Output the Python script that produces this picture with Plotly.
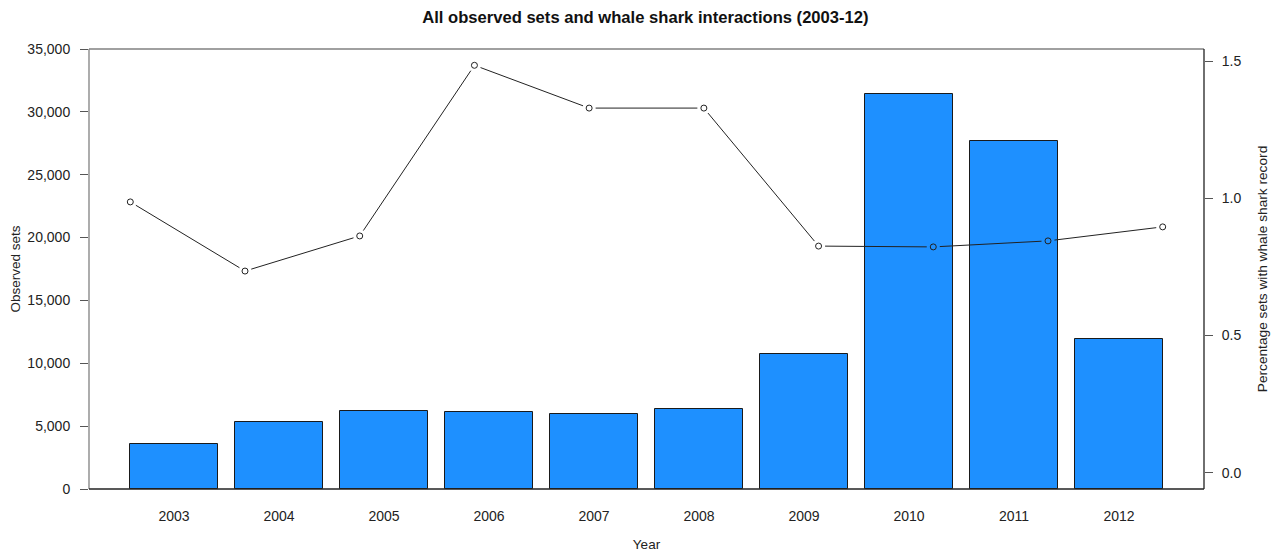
import math
import plotly.graph_objects as go

years = [2003, 2004, 2005, 2006, 2007, 2008, 2009, 2010, 2011, 2012]
observed_sets = [3600, 5330, 6220, 6150, 5990, 6330, 10760, 31400, 27710, 11970]
pct_whale_shark = [0.987, 0.735, 0.863, 1.485, 1.329, 1.329, 0.826, 0.823, 0.845, 0.896]
left_ticks = [0, 5000, 10000, 15000, 20000, 25000, 30000, 35000]
right_ticks = [0.0, 0.5, 1.0, 1.5]

FONT = "Liberation Sans, Arial, sans-serif"

W, H = 1269, 544
ML, MR, MT, MB = 81, 73, 41, 63
bar_pad = 0.81
line_pad = 0.36
x2_range = [years[0] - line_pad, years[-1] + line_pad]
y2_range = [-0.0594, 1.5444]

# R-style type="b": line segments that stop short of each point marker
pw, ph = W - ML - MR, H - MT - MB
sx = pw / (x2_range[1] - x2_range[0])
sy = ph / (y2_range[1] - y2_range[0])
GAP = 6.5
seg_x, seg_y = [], []
for i in range(len(years) - 1):
    x0, y0 = years[i], pct_whale_shark[i]
    x1, y1 = years[i + 1], pct_whale_shark[i + 1]
    dx, dy = (x1 - x0) * sx, (y1 - y0) * sy
    d = math.hypot(dx, dy)
    f = GAP / d
    seg_x += [x0 + (x1 - x0) * f, x1 - (x1 - x0) * f, None]
    seg_y += [y0 + (y1 - y0) * f, y1 - (y1 - y0) * f, None]

fig = go.Figure()
fig.add_trace(go.Bar(
    x=years, y=observed_sets, width=1 / 1.2,
    marker=dict(color="#1E90FF", line=dict(color="#1a1a1a", width=1)),
    xaxis="x", yaxis="y", showlegend=False, hoverinfo="x+y"))
fig.add_trace(go.Scatter(
    x=seg_x, y=seg_y, mode="lines", line=dict(color="#222222", width=1),
    xaxis="x2", yaxis="y2", showlegend=False, hoverinfo="skip"))
fig.add_trace(go.Scatter(
    x=years, y=pct_whale_shark, mode="markers",
    marker=dict(symbol="circle-open", size=6, color="#222222", line=dict(width=1)),
    xaxis="x2", yaxis="y2", showlegend=False))

fig.update_layout(
    width=W, height=H,
    margin=dict(l=ML, r=MR, t=MT, b=MB, autoexpand=False),
    paper_bgcolor="white", plot_bgcolor="white",
    font=dict(family=FONT, size=14, color="#222222"),
    title=dict(text="<b>All observed sets and whale shark interactions (2003-12)</b>",
               x=0.499, xanchor="center", xref="paper", yref="container",
               y=1 - 9 / H, yanchor="middle", automargin=False,
               font=dict(size=16.6, color="#111111")),
    bargap=0,
    xaxis=dict(range=[years[0] - bar_pad, years[-1] + bar_pad], tickvals=years,
               ticktext=[str(y) for y in years], ticks="", showgrid=False,
               zeroline=False, showline=False, ticklabelstandoff=17, automargin=False,
               title=dict(text="Year", font=dict(size=13.5), standoff=18)),
    xaxis2=dict(range=x2_range, overlaying="x", visible=False),
    yaxis=dict(range=[0, 35000], tickvals=left_ticks, tickformat=",",
               ticks="outside", ticklen=8, tickcolor="#555555", showgrid=False,
               zeroline=False, showline=False, ticklabelstandoff=7, automargin=False,
               title=dict(text="Observed sets", font=dict(size=13.5), standoff=8)),
    yaxis2=dict(range=y2_range, overlaying="y", side="right",
                tickvals=right_ticks, ticktext=[f"{v:.1f}" for v in right_ticks],
                ticks="outside", ticklen=8, tickcolor="#555555", showgrid=False,
                zeroline=False, showline=False, ticklabelstandoff=6, automargin=False,
                title=dict(text="Percentage sets with whale shark record",
                           font=dict(size=13.7), standoff=16)),
    shapes=[
        dict(type="line", xref="paper", yref="paper", x0=0, x1=1, y0=1, y1=1,
             line=dict(color="#808080", width=1.3)),
        dict(type="line", xref="paper", yref="paper", x0=0, x1=0, y0=0, y1=1,
             line=dict(color="#808080", width=1.3)),
        dict(type="line", xref="paper", yref="paper", x0=0, x1=1, y0=0, y1=0,
             line=dict(color="#222222", width=1.3)),
        dict(type="line", xref="paper", yref="paper", x0=1, x1=1, y0=0, y1=1,
             line=dict(color="#222222", width=1.3)),
    ],
)

fig.write_html("out.html")
